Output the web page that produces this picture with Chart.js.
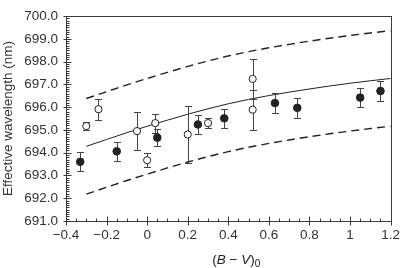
<!DOCTYPE html>
<html>
<head>
<meta charset="utf-8">
<script src="https://cdn.jsdelivr.net/npm/chart.js@4.4.1/dist/chart.umd.min.js"></script>
<style>
  html, body { margin: 0; padding: 0; background: #fff; }
  canvas { display: block; }
</style>
</head>
<body>
<canvas id="chart" width="406" height="268"></canvas>
<script>
// filled circles
const filledX = [-0.33, -0.15, 0.05, 0.25, 0.38, 0.63, 0.74, 1.05, 1.15]
const filledY = [693.60, 694.06, 694.66, 695.24, 695.51, 696.18, 695.97, 696.42, 696.71]
const filledErr = [0.41, 0.41, 0.38, 0.42, 0.42, 0.45, 0.43, 0.43, 0.43]

// open circles
const openX = [-0.30, -0.24, -0.05, 0.00, 0.04, 0.20, 0.30, 0.52, 0.52]
const openY = [695.17, 695.91, 694.95, 693.67, 695.30, 694.80, 695.30, 697.24, 695.89]
const openErr = [0.18, 0.46, 0.84, 0.32, 0.42, 1.26, 0.23, 0.87, 0.88]

// fitted relation and its envelope
const curveX = [-0.3, -0.2, -0.1, 0.0, 0.1, 0.2, 0.3, 0.4, 0.5, 0.6, 0.7, 0.8, 0.9, 1.0, 1.1, 1.2]
const fitY = [694.28, 694.58, 694.88, 695.16, 695.43, 695.69, 695.93, 696.15, 696.34, 696.51, 696.66, 696.80, 696.93, 697.05, 697.16, 697.26]
const upperY = [696.38, 696.68, 696.98, 697.26, 697.53, 697.79, 698.03, 698.25, 698.44, 698.61, 698.76, 698.90, 699.03, 699.15, 699.26, 699.36]
const lowerY = [692.18, 692.48, 692.78, 693.06, 693.33, 693.59, 693.83, 694.05, 694.24, 694.41, 694.56, 694.70, 694.83, 694.95, 695.06, 695.16]

const xTicks = [-0.4, -0.2, 0, 0.2, 0.4, 0.6, 0.8, 1, 1.2]

const ink = '#222'
const axisColor = '#3a3a3a'
const fontFamily = "'Liberation Sans', Arial, sans-serif"

const toPoints = (xs, ys) => xs.map((x, i) => ({ x, y: ys[i] }))

const fmtX = (v) => {
  const r = Math.round(v * 10) / 10
  if (r === 0) return '0'
  return (r < 0 ? '\u2212' : '') + String(Math.abs(r))
}

// error bars, drawn just before the filled points so circles sit on top
const errorBars = {
  id: 'errorBars',
  beforeDatasetDraw(chart, args) {
    if (args.index !== 1) return
    const { ctx, scales: { x, y } } = chart
    ctx.save()
    ctx.strokeStyle = '#444'
    ctx.lineWidth = 1
    const draw = (xs, ys, es) => {
      xs.forEach((xv, i) => {
        const px = Math.round(x.getPixelForValue(xv)) + 0.5
        const top = Math.round(y.getPixelForValue(ys[i] + es[i])) + 0.5
        const bot = Math.round(y.getPixelForValue(ys[i] - es[i])) + 0.5
        ctx.beginPath()
        ctx.moveTo(px, top); ctx.lineTo(px, bot)
        ctx.moveTo(px - 3.5, top); ctx.lineTo(px + 3.5, top)
        ctx.moveTo(px - 3.5, bot); ctx.lineTo(px + 3.5, bot)
        ctx.stroke()
      })
    }
    draw(filledX, filledY, filledErr)
    draw(openX, openY, openErr)
    ctx.restore()
  }
}

// box frame, inward ticks and the (B - V)0 axis title
const frameTicks = {
  id: 'frameTicks',
  afterDraw(chart) {
    const { ctx, chartArea: a, scales: { x, y } } = chart
    const L = Math.round(a.left) + 0.5
    const B = Math.round(a.bottom) + 0.5
    ctx.save()
    ctx.strokeStyle = axisColor
    ctx.lineWidth = 1
    ctx.strokeRect(L, Math.round(a.top) + 0.5, Math.round(a.right - a.left), Math.round(a.bottom - a.top))
    ctx.beginPath()
    for (let i = 0; i <= 90; i++) {
      const py = Math.round(y.getPixelForValue(y.min + i * 0.1)) + 0.5
      const major = i % 10 === 0
      ctx.moveTo(L - (major ? 3 : 0), py)
      ctx.lineTo(L + (major ? 5 : 3), py)
    }
    for (let i = 0; i <= 32; i++) {
      const px = Math.round(x.getPixelForValue(x.min + i * 0.05)) + 0.5
      const major = i % 4 === 0
      ctx.moveTo(px, B + (major ? 4 : 0))
      ctx.lineTo(px, B - (major ? 5 : 3))
    }
    ctx.stroke()

    const parts = [['(', false], ['B', true], [' \u2212 ', false], ['V', true], [')', false]]
    const size = 13.5
    const fontOf = (it) => (it ? 'italic ' : '') + size + 'px ' + fontFamily
    const subFont = '10px ' + fontFamily
    let total = 0
    parts.forEach(([t, it]) => { ctx.font = fontOf(it); total += ctx.measureText(t).width })
    ctx.font = subFont
    total += ctx.measureText('0').width
    let cx = (a.left + a.right) / 2 + 8 - total / 2
    const base = 264
    ctx.fillStyle = ink
    ctx.textAlign = 'left'
    ctx.textBaseline = 'alphabetic'
    parts.forEach(([t, it]) => {
      ctx.font = fontOf(it)
      ctx.fillText(t, cx, base)
      cx += ctx.measureText(t).width
    })
    ctx.font = subFont
    ctx.fillText('0', cx, base + 3)
    ctx.restore()
  }
}

new Chart(document.getElementById('chart'), {
  type: 'scatter',
  data: {
    datasets: [
      {
        label: 'open',
        data: toPoints(openX, openY),
        pointRadius: 3.6,
        pointBackgroundColor: '#fff',
        pointBorderColor: ink,
        pointBorderWidth: 1
      },
      {
        label: 'filled',
        data: toPoints(filledX, filledY),
        pointRadius: 3.8,
        pointBackgroundColor: ink,
        pointBorderColor: ink,
        pointBorderWidth: 1
      },
      {
        label: 'fit',
        data: toPoints(curveX, fitY),
        showLine: true,
        borderColor: ink,
        borderWidth: 1,
        pointRadius: 0
      },
      {
        label: 'upper',
        data: toPoints(curveX, upperY),
        showLine: true,
        borderColor: ink,
        borderWidth: 1.4,
        borderDash: [8, 5],
        pointRadius: 0
      },
      {
        label: 'lower',
        data: toPoints(curveX, lowerY),
        showLine: true,
        borderColor: ink,
        borderWidth: 1.4,
        borderDash: [8, 5],
        pointRadius: 0
      }
    ]
  },
  options: {
    responsive: false,
    animation: false,
    layout: { padding: { top: 6, right: 11, left: 0, bottom: 0 } },
    plugins: {
      legend: { display: false },
      tooltip: { enabled: false }
    },
    scales: {
      x: {
        type: 'linear',
        min: -0.4,
        max: 1.2,
        afterBuildTicks: (scale) => { scale.ticks = xTicks.map((v) => ({ value: v })) },
        afterFit: (scale) => { scale.height = 47 },
        grid: { display: false, drawTicks: false },
        border: { display: false },
        ticks: {
          padding: 6,
          color: '#333',
          font: { family: fontFamily, size: 13.5 },
          callback: (v) => fmtX(v)
        }
      },
      y: {
        min: 691,
        max: 700,
        afterFit: (scale) => { scale.width = 66 },
        grid: { display: false, drawTicks: false },
        border: { display: false },
        ticks: {
          stepSize: 1,
          padding: 8,
          color: '#333',
          font: { family: fontFamily, size: 13.5 },
          callback: (v) => v.toFixed(1)
        },
        title: {
          display: true,
          text: 'Effective wavelength (nm)',
          color: '#333',
          padding: { top: 0, bottom: 0 },
          font: { family: fontFamily, size: 13.5 }
        }
      }
    }
  },
  plugins: [errorBars, frameTicks]
})
</script>
</body>
</html>
